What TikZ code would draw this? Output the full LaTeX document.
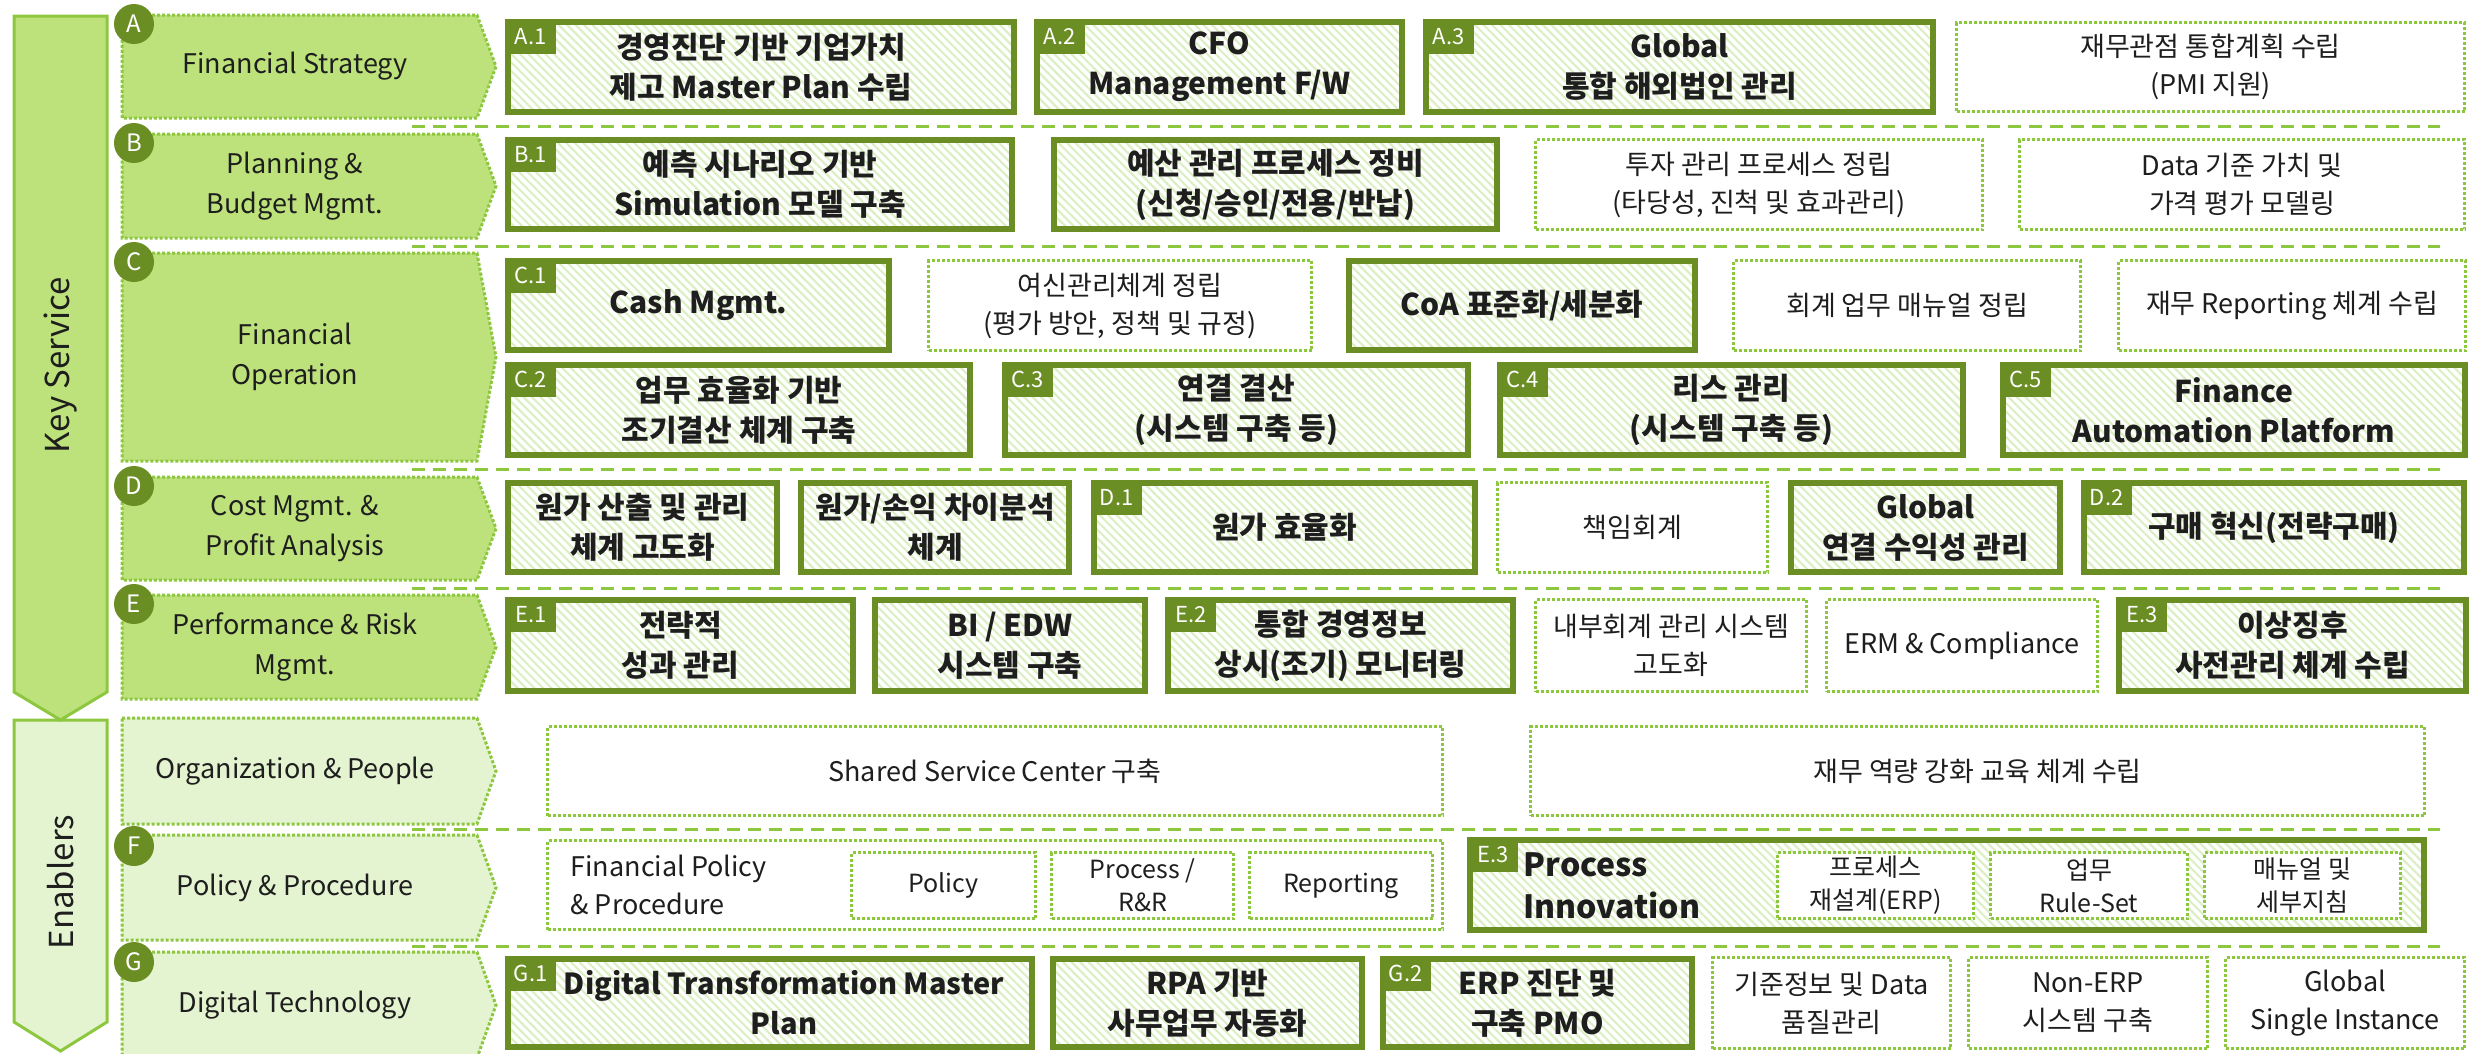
\documentclass[tikz,border=0pt]{standalone}
\usepackage{fontspec}
\setmainfont{Noto Sans CJK KR}
\usepackage{tikz}
\usetikzlibrary{patterns.meta}
\definecolor{Olive}{HTML}{6A8E23}
\definecolor{Lime}{HTML}{BDE27B}
\definecolor{LimeLine}{HTML}{8DC63F}
\definecolor{Pale}{HTML}{E4F3D0}
\definecolor{Hatch}{HTML}{DCEFC4}
\definecolor{Ink}{HTML}{1E1E1E}
\tikzstyle{KeyBox}=[rectangle, draw=Olive, line width=6pt, pattern={Lines[angle=-45,distance=6pt,line width=2.2pt]}, pattern color=Hatch, align=center, text=Ink, font=\fontsize{30}{40}\selectfont\bfseries, inner sep=0pt, outer sep=0pt]
\tikzstyle{DotBox}=[rectangle, draw=LimeLine, line width=3pt, dash pattern=on 3pt off 2pt, fill=white, align=center, text=Ink, font=\fontsize{27}{38}\selectfont, inner sep=0pt, outer sep=0pt]
\tikzstyle{SubBox}=[DotBox, font=\fontsize{25}{33}\selectfont]
\tikzstyle{Tag}=[rectangle, fill=Olive, text=white, font=\fontsize{22}{22}\selectfont, minimum width=51, minimum height=35, inner sep=0pt, anchor=north west]
\tikzstyle{Badge}=[circle, fill=Olive, text=white, minimum size=40, inner sep=0pt, font=\fontsize{24}{24}\selectfont]
\tikzstyle{Band}=[draw=LimeLine, line width=3pt, dash pattern=on 3pt off 2pt]
\tikzstyle{BandText}=[align=center, text=Ink, font=\fontsize{27}{40}\selectfont]
\tikzstyle{Sep}=[draw=LimeLine, line width=3pt, dash pattern=on 13pt off 8pt]

\begin{document}
\begin{tikzpicture}[x=1pt, y=-1pt]
    \useasboundingbox (0,0) rectangle (2478,1053);

    % left bars
    \draw[fill=Pale, draw=LimeLine, line width=3pt] (14,720) -- (107,720) -- (107,1022) -- (60.5,1051) -- (14,1022) -- cycle;
    \draw[fill=Lime, draw=LimeLine, line width=3pt] (14,16) -- (107,16) -- (107,692) -- (60.5,720) -- (14,692) -- cycle;
    \path
    (60.5,365) node[rotate=90, text=Ink, font=\fontsize{33}{33}\selectfont] (keysvc) {Key Service}
    (60.5,882) node[rotate=90, text=Ink, font=\fontsize{33}{33}\selectfont] (enabl) {Enablers};

    % category bands
    \draw[Band, fill=Lime] (122,15) -- (477,15) -- (496,66.5) -- (477,118) -- (122,118) -- cycle;
    \draw[Band, fill=Lime] (122,134) -- (477,134) -- (496,186) -- (477,238) -- (122,238) -- cycle;
    \draw[Band, fill=Lime] (122,253) -- (477,253) -- (496,357) -- (477,461) -- (122,461) -- cycle;
    \draw[Band, fill=Lime] (122,477) -- (477,477) -- (496,528.5) -- (477,580) -- (122,580) -- cycle;
    \draw[Band, fill=Lime] (122,595) -- (477,595) -- (496,647) -- (477,699) -- (122,699) -- cycle;
    \draw[Band, fill=Pale] (122,718) -- (477,718) -- (496,771) -- (477,824) -- (122,824) -- cycle;
    \draw[Band, fill=Pale] (122,835) -- (477,835) -- (496,887.5) -- (477,940) -- (122,940) -- cycle;
    \draw[Band, fill=Pale] (122,952) -- (477,952) -- (496,1005) -- (477,1058) -- (122,1058) -- cycle;

    \path
    (295,66.5) node[BandText] (catA) {Financial Strategy}
    (295,186) node[BandText] (catB) {Planning \&\\Budget Mgmt.}
    (295,357) node[BandText] (catC) {Financial\\Operation}
    (295,528.5) node[BandText] (catD) {Cost Mgmt. \&\\Profit Analysis}
    (295,647) node[BandText] (catE) {Performance \& Risk\\Mgmt.}
    (295,771) node[BandText] (catO) {Organization \& People}
    (295,887.5) node[BandText] (catF) {Policy \& Procedure}
    (295,1005) node[BandText] (catG) {Digital Technology};

    \path
    (134,24) node[Badge] (badA) {A}
    (134,143) node[Badge] (badB) {B}
    (134,262) node[Badge] (badC) {C}
    (134,486) node[Badge] (badD) {D}
    (134,604) node[Badge] (badE) {E}
    (134,846) node[Badge] (badF) {F}
    (134,962) node[Badge] (badG) {G};

    % row separators
    \draw[Sep] (412,126) -- (2440,126);
    \draw[Sep] (412,246) -- (2440,246);
    \draw[Sep] (412,469) -- (2440,469);
    \draw[Sep] (412,588) -- (2440,588);
    \draw[Sep] (412,829) -- (2440,829);
    \draw[Sep] (412,946) -- (2440,946);

    % A
    \path
    (761,67) node[KeyBox, minimum width=506, minimum height=90] (a1) {경영진단 기반 기업가치\\제고 Master Plan 수립}
    (1219.5,67) node[KeyBox, minimum width=365, minimum height=90] (a2) {CFO\\Management F/W}
    (1679.5,67) node[KeyBox, minimum width=507, minimum height=90] (a3) {Global\\통합 해외법인 관리}
    (2210.5,67) node[DotBox, minimum width=508, minimum height=89] (a4) {재무관점 통합계획 수립\\(PMI 지원)};

    % B
    \path
    (760,184.5) node[KeyBox, minimum width=504, minimum height=89] (b1) {예측 시나리오 기반\\Simulation 모델 구축}
    (1275.5,184.5) node[KeyBox, minimum width=443, minimum height=89] (b2) {예산 관리 프로세스 정비\\(신청/승인/전용/반납)}
    (1759,184.5) node[DotBox, minimum width=447, minimum height=90] (b3) {투자 관리 프로세스 정립\\(타당성, 진척 및 효과관리)}
    (2242,184.5) node[DotBox, minimum width=445, minimum height=90] (b4) {Data 기준 가치 및\\가격 평가 모델링};

    % C
    \path
    (698.5,305.5) node[KeyBox, minimum width=381, minimum height=89] (c1) {Cash Mgmt.}
    (1120,305.5) node[DotBox, minimum width=383, minimum height=90] (c1b) {여신관리체계 정립\\(평가 방안, 정책 및 규정)}
    (1522,305.5) node[KeyBox, minimum width=346, minimum height=89] (c1c) {CoA 표준화/세분화}
    (1907,305.5) node[DotBox, minimum width=347, minimum height=90] (c1d) {회계 업무 매뉴얼 정립}
    (2292,305.5) node[DotBox, minimum width=347, minimum height=90] (c1e) {재무 Reporting 체계 수립};
    \path
    (739,410) node[KeyBox, minimum width=462, minimum height=90] (c2) {업무 효율화 기반\\조기결산 체계 구축}
    (1236.5,410) node[KeyBox, minimum width=463, minimum height=90] (c3) {연결 결산\\(시스템 구축 등)}
    (1731.5,410) node[KeyBox, minimum width=463, minimum height=90] (c4) {리스 관리\\(시스템 구축 등)}
    (2234,410) node[KeyBox, minimum width=462, minimum height=90] (c5) {Finance\\Automation Platform};

    % D
    \path
    (642.5,527.5) node[KeyBox, minimum width=269, minimum height=89] (d0a) {원가 산출 및 관리\\체계 고도화}
    (935,527.5) node[KeyBox, minimum width=268, minimum height=89] (d0b) {원가/손익 차이분석\\체계}
    (1284.5,527.5) node[KeyBox, minimum width=381, minimum height=89] (d1) {원가 효율화}
    (1632.5,527.5) node[DotBox, minimum width=270, minimum height=90] (d1b) {책임회계}
    (1925.5,527.5) node[KeyBox, minimum width=269, minimum height=89] (d1c) {Global\\연결 수익성 관리}
    (2274,527.5) node[KeyBox, minimum width=380, minimum height=89] (d2) {구매 혁신(전략구매)};

    % E
    \path
    (680.5,645.5) node[KeyBox, minimum width=345, minimum height=91] (e1) {전략적\\성과 관리}
    (1010,645.5) node[KeyBox, minimum width=270, minimum height=91] (e1b) {BI / EDW\\시스템 구축}
    (1340.5,645.5) node[KeyBox, minimum width=345, minimum height=91] (e2) {통합 경영정보\\상시(조기) 모니터링}
    (1671,645.5) node[DotBox, minimum width=271, minimum height=92] (e2b) {내부회계 관리 시스템\\고도화}
    (1962,645.5) node[DotBox, minimum width=271, minimum height=92] (e2c) {ERM \& Compliance}
    (2292.5,645.5) node[KeyBox, minimum width=347, minimum height=91] (e3) {이상징후\\사전관리 체계 수립};

    % Organization
    \path
    (995,771) node[DotBox, minimum width=895, minimum height=89] (org1) {Shared Service Center 구축}
    (1977.5,771) node[DotBox, minimum width=894, minimum height=89] (org2) {재무 역량 강화 교육 체계 수립};

    % F
    \path
    (995,885) node[DotBox, minimum width=895, minimum height=89] (f0) {}
    (567,885) node[anchor=west, align=left, text=Ink, font=\fontsize{27}{38}\selectfont] (fpol) {Financial Policy\\\& Procedure}
    (943.5,885.5) node[SubBox, minimum width=184, minimum height=66] (fp1) {Policy}
    (1142.5,885.5) node[SubBox, minimum width=182, minimum height=66] (fp2) {Process /\\R\&R}
    (1341,885.5) node[SubBox, minimum width=183, minimum height=66] (fp3) {Reporting}
    (1947,885) node[KeyBox, minimum width=954, minimum height=90] (f1) {}
    (1520,886) node[anchor=west, align=left, text=Ink, font=\fontsize{32}{42}\selectfont\bfseries] (fproc) {Process\\Innovation}
    (1875.5,885.5) node[SubBox, minimum width=196, minimum height=66] (fi1) {프로세스\\재설계(ERP)}
    (2089,885.5) node[SubBox, minimum width=197, minimum height=66] (fi2) {업무\\Rule-Set}
    (2302.5,885.5) node[SubBox, minimum width=196, minimum height=66] (fi3) {매뉴얼 및\\세부지침};

    % G
    \path
    (770,1003) node[KeyBox, minimum width=524, minimum height=88] (g1) {}
    (784,1003) node[align=center, text=Ink, font=\fontsize{29}{40}\selectfont\bfseries] (g1txt) {Digital Transformation Master\\Plan}
    (1207.5,1003) node[KeyBox, minimum width=309, minimum height=88] (g1b) {RPA 기반\\사무업무 자동화}
    (1537.5,1003) node[KeyBox, minimum width=309, minimum height=88] (g2) {ERP 진단 및\\구축 PMO}
    (1831.5,1003) node[DotBox, minimum width=238, minimum height=91] (g2b) {기준정보 및 Data\\품질관리}
    (2088,1003) node[DotBox, minimum width=239, minimum height=91] (g2c) {Non-ERP\\시스템 구축}
    (2345,1003) node[DotBox, minimum width=239, minimum height=91] (g2d) {Global\\Single Instance};

    % corner tags
    \node[Tag] (a1tag) at ([shift={(-3pt,3pt)}]a1.north west) {A.1};
    \node[Tag] (a2tag) at ([shift={(-3pt,3pt)}]a2.north west) {A.2};
    \node[Tag] (a3tag) at ([shift={(-3pt,3pt)}]a3.north west) {A.3};
    \node[Tag] (b1tag) at ([shift={(-3pt,3pt)}]b1.north west) {B.1};
    \node[Tag] (c1tag) at ([shift={(-3pt,3pt)}]c1.north west) {C.1};
    \node[Tag] (c2tag) at ([shift={(-3pt,3pt)}]c2.north west) {C.2};
    \node[Tag] (c3tag) at ([shift={(-3pt,3pt)}]c3.north west) {C.3};
    \node[Tag] (c4tag) at ([shift={(-3pt,3pt)}]c4.north west) {C.4};
    \node[Tag] (c5tag) at ([shift={(-3pt,3pt)}]c5.north west) {C.5};
    \node[Tag] (d1tag) at ([shift={(-3pt,3pt)}]d1.north west) {D.1};
    \node[Tag] (d2tag) at ([shift={(-3pt,3pt)}]d2.north west) {D.2};
    \node[Tag] (e1tag) at ([shift={(-3pt,3pt)}]e1.north west) {E.1};
    \node[Tag] (e2tag) at ([shift={(-3pt,3pt)}]e2.north west) {E.2};
    \node[Tag] (e3tag) at ([shift={(-3pt,3pt)}]e3.north west) {E.3};
    \node[Tag] (f1tag) at ([shift={(-3pt,3pt)}]f1.north west) {E.3};
    \node[Tag] (g1tag) at ([shift={(-3pt,3pt)}]g1.north west) {G.1};
    \node[Tag] (g2tag) at ([shift={(-3pt,3pt)}]g2.north west) {G.2};
\end{tikzpicture}
\end{document}
